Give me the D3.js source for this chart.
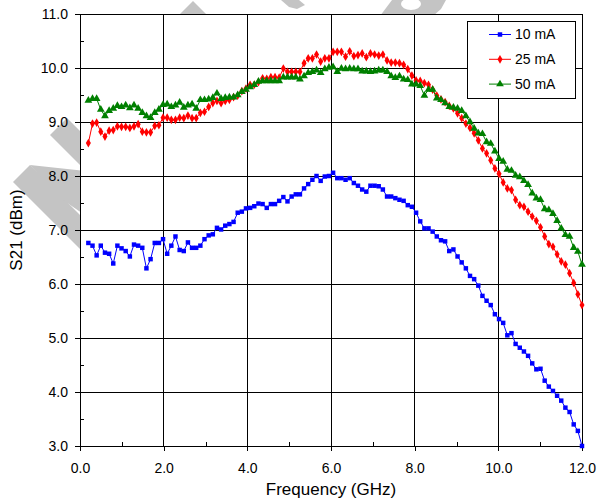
<!DOCTYPE html>
<html><head><meta charset="utf-8">
<script src="https://cdn.jsdelivr.net/npm/d3@7"></script>
<style>
html,body{margin:0;padding:0;background:#fff;}
svg{display:block;font-family:"Liberation Sans",Arial,sans-serif;}
</style></head>
<body>
<svg id="chart" width="598" height="502"></svg>
<script>
// ---- data ----
const freqGHz = [0.200,0.299,0.398,0.497,0.597,0.696,0.795,0.894,0.993,1.092,
1.192,1.291,1.390,1.489,1.588,1.687,1.787,1.886,1.985,2.084,
2.183,2.282,2.382,2.481,2.580,2.679,2.778,2.877,2.976,3.076,
3.175,3.274,3.373,3.472,3.571,3.671,3.770,3.869,3.968,4.067,
4.166,4.266,4.365,4.464,4.563,4.662,4.761,4.861,4.960,5.059,
5.158,5.257,5.356,5.455,5.555,5.654,5.753,5.852,5.951,6.050,
6.150,6.249,6.348,6.447,6.546,6.645,6.745,6.844,6.943,7.042,
7.141,7.240,7.340,7.439,7.538,7.637,7.736,7.835,7.934,8.034,
8.133,8.232,8.331,8.430,8.529,8.629,8.728,8.827,8.926,9.025,
9.124,9.224,9.323,9.422,9.521,9.620,9.719,9.818,9.918,10.017,
10.116,10.215,10.314,10.413,10.513,10.612,10.711,10.810,10.909,11.008,
11.108,11.207,11.306,11.405,11.504,11.603,11.703,11.802,11.901,12.000];

const s21_10mA = [6.76,6.71,6.53,6.71,6.58,6.56,6.38,6.71,6.66,6.61,
6.51,6.73,6.71,6.67,6.29,6.46,6.76,6.76,6.83,6.56,
6.71,6.88,6.63,6.61,6.77,6.67,6.67,6.71,6.83,6.90,
6.92,7.04,7.01,7.08,7.11,7.15,7.32,7.34,7.40,7.41,
7.44,7.49,7.48,7.41,7.48,7.48,7.54,7.61,7.53,7.62,
7.66,7.66,7.77,7.85,7.93,8.00,7.91,7.99,8.00,8.06,
7.96,7.96,7.93,7.96,7.87,7.82,7.75,7.71,7.82,7.82,
7.81,7.75,7.62,7.62,7.59,7.56,7.54,7.46,7.43,7.32,
7.16,7.03,7.03,6.97,6.88,6.81,6.79,6.61,6.64,6.51,
6.40,6.29,6.15,6.09,5.97,5.78,5.69,5.61,5.44,5.35,
5.28,5.05,5.09,4.89,4.82,4.75,4.67,4.53,4.42,4.43,
4.21,4.10,4.02,3.93,3.84,3.71,3.63,3.40,3.28,3.00];

const s21_25mA = [8.61,8.97,8.99,8.82,8.73,8.84,8.85,8.92,8.91,8.91,
8.89,8.92,8.96,8.82,8.81,8.81,8.93,8.94,9.08,9.08,
9.04,9.04,9.08,9.07,9.12,9.07,9.07,9.17,9.19,9.28,
9.35,9.39,9.35,9.39,9.41,9.46,9.49,9.57,9.62,9.69,
9.69,9.74,9.81,9.80,9.83,9.83,9.82,9.99,9.93,9.93,
9.93,9.93,10.09,10.18,10.18,10.25,10.12,10.18,10.18,10.30,
10.30,10.30,10.21,10.31,10.22,10.24,10.27,10.20,10.27,10.25,
10.23,10.25,10.14,10.10,10.10,10.09,10.06,9.98,9.86,9.77,
9.76,9.72,9.69,9.60,9.49,9.42,9.37,9.30,9.25,9.16,
9.07,8.97,8.89,8.79,8.66,8.51,8.42,8.29,8.14,8.04,
7.88,7.77,7.74,7.56,7.46,7.43,7.34,7.25,7.17,7.05,
6.88,6.74,6.69,6.55,6.42,6.36,6.20,6.02,5.81,5.61];

const s21_50mA = [9.40,9.43,9.43,9.23,9.11,9.21,9.25,9.30,9.28,9.31,
9.26,9.31,9.25,9.17,9.11,9.08,9.17,9.23,9.32,9.33,
9.28,9.31,9.36,9.27,9.31,9.33,9.25,9.41,9.41,9.42,
9.45,9.53,9.43,9.45,9.46,9.46,9.50,9.56,9.60,9.65,
9.69,9.75,9.76,9.76,9.76,9.76,9.76,9.83,9.83,9.83,
9.83,9.79,9.85,9.91,9.93,9.96,9.91,9.98,10.01,10.02,
9.93,9.99,9.98,9.99,9.98,9.98,9.94,9.94,9.93,9.94,
9.96,9.96,9.93,9.85,9.82,9.85,9.79,9.78,9.70,9.70,
9.67,9.49,9.60,9.60,9.44,9.41,9.35,9.28,9.27,9.25,
9.21,9.11,9.00,8.88,8.79,8.78,8.63,8.60,8.46,8.32,
8.27,8.12,8.10,8.01,7.98,7.91,7.84,7.68,7.59,7.56,
7.39,7.37,7.30,7.17,7.03,6.91,6.88,6.67,6.60,6.36];

const seriesNames = ["10 mA","25 mA","50 mA"];
const xTicks = [0,2,4,6,8,10,12];
const xMinorTicks = [1,3,5,7,9,11];
const yTicks = [3,4,5,6,7,8,9,10,11];
const yMinorTicks = [3.5,4.5,5.5,6.5,7.5,8.5,9.5,10.5];
const xTitle = "Frequency (GHz)";
const yTitle = "S21 (dBm)";

// ---- layout ----
const svg = d3.select("#chart");
const L = 80, R = 582, T = 14, B = 446;
const x = d3.scaleLinear().domain([0,12]).range([L,R]);
const y = d3.scaleLinear().domain([3,11]).range([B,T]);

const colors = ["#0000ff","#ff0000","#008000"];
const symbols = [d3.symbolSquare, d3.symbolDiamond, d3.symbolTriangle];
const symSizes = [20, 22, 26];

// background watermark fragments (decorative, mostly hidden behind the plot area)
const wm = svg.append("g").attr("fill","#c4c4c4");
[
  [[50,135],[67,118],[140,191],[123,208]],
  [[13,182],[30,165],[110,245],[93,262]],
  [[30,165],[95,172],[95,222],[60,198]],
  [[193,1],[208,16],[178,16]],
  [[281,0],[299,0],[305,5],[297,9],[289,7]]
].forEach(p=>wm.append("path").attr("d","M"+p.map(q=>q.join(",")).join("L")+"Z"));
wm.append("path").attr("fill-rule","evenodd")
  .attr("d","M380,16 L392,0 L446,0 L441,9 L433,16 Z M401,4 a10,6 0 1,0 20,0 a10,6 0 1,0 -20,0 Z");

// plot area
svg.append("rect").attr("x",L).attr("y",T).attr("width",R-L).attr("height",B-T)
  .attr("fill","#fff");

// gridlines
const grid = svg.append("g").attr("shape-rendering","crispEdges").attr("stroke","#000").attr("stroke-width",1);
yTicks.forEach(v=>{
  grid.append("line").attr("x1",L).attr("x2",R).attr("y1",y(v)).attr("y2",y(v));
});
xTicks.forEach(v=>{
  grid.append("line").attr("y1",T).attr("y2",B).attr("x1",x(v)).attr("x2",x(v));
});
// plot border
svg.append("rect").attr("x",L).attr("y",T).attr("width",R-L).attr("height",B-T)
  .attr("fill","none").attr("stroke","#000").attr("shape-rendering","crispEdges");

// axes
const xAxis = d3.axisBottom(x).tickValues(xTicks).tickFormat(d3.format(".1f")).tickSizeInner(5).tickSizeOuter(0).tickPadding(12);
const gx = svg.append("g").attr("transform",`translate(0,${B})`).call(xAxis);
const yAxis = d3.axisLeft(y).tickValues(yTicks).tickFormat(d3.format(".1f")).tickSizeInner(5).tickSizeOuter(0).tickPadding(7);
const gy = svg.append("g").attr("transform",`translate(${L},0)`).call(yAxis);
[gx,gy].forEach(g=>{
  g.attr("shape-rendering","crispEdges");
  g.select(".domain").attr("stroke","#000");
  g.selectAll(".tick line").attr("stroke","#000");
  g.selectAll(".tick text").attr("font-size","14px").attr("fill","#000")
    .attr("font-family","'Liberation Sans',Arial,sans-serif");
});
// minor ticks (inside)
const xMinor = d3.axisTop(x).tickValues(xMinorTicks).tickFormat("").tickSizeInner(4).tickSizeOuter(0);
svg.append("g").attr("transform",`translate(0,${B})`).call(xMinor)
  .attr("shape-rendering","crispEdges").call(g=>g.select(".domain").remove());
const yMinor = d3.axisRight(y).tickValues(yMinorTicks).tickFormat("").tickSizeInner(4).tickSizeOuter(0);
svg.append("g").attr("transform",`translate(${L},0)`).call(yMinor)
  .attr("shape-rendering","crispEdges").call(g=>g.select(".domain").remove());

// series
const allSeries = [s21_10mA, s21_25mA, s21_50mA];
const line = d3.line().x(d=>x(d[0])).y(d=>y(d[1]));
allSeries.forEach((vals,i)=>{
  const pts = freqGHz.map((f,j)=>[f, vals[j]]);
  svg.append("path").datum(pts).attr("d",line).attr("fill","none")
    .attr("stroke",colors[i]).attr("stroke-width",1);
  svg.append("g").selectAll("path").data(pts).join("path")
    .attr("transform",d=>`translate(${x(d[0])},${y(d[1])})`)
    .attr("d",d3.symbol().type(symbols[i]).size(symSizes[i]))
    .attr("fill",colors[i]);
});

// axis titles
svg.append("text").attr("x",(L+R)/2).attr("y",495).attr("text-anchor","middle")
  .attr("font-size","17px").attr("fill","#000").text(xTitle);
svg.append("text").attr("transform",`translate(22,${(T+B)/2}) rotate(-90)`)
  .attr("text-anchor","middle").attr("font-size","17px").attr("fill","#000").text(yTitle);

// legend
const lg = svg.append("g");
lg.append("rect").attr("x",467.5).attr("y",21.5).attr("width",108).attr("height",77)
  .attr("fill","#fff").attr("stroke","#000");
seriesNames.forEach((name,i)=>{
  const cy = 34.5 + i*24.8;
  lg.append("line").attr("x1",489).attr("x2",511).attr("y1",cy).attr("y2",cy)
    .attr("stroke",colors[i]).attr("stroke-width",1);
  lg.append("path").attr("transform",`translate(500,${cy})`)
    .attr("d",d3.symbol().type(symbols[i]).size(symSizes[i])).attr("fill",colors[i]);
  lg.append("text").attr("x",515).attr("y",cy).attr("dy","0.35em")
    .attr("font-size","14px").attr("fill","#000").text(name);
});
</script>
</body></html>
